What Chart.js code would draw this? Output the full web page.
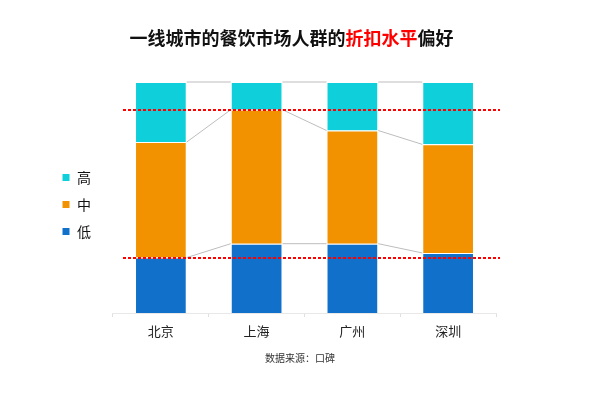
<!DOCTYPE html>
<html>
<head>
<meta charset="utf-8">
<script src="https://cdn.jsdelivr.net/npm/chart.js@4/dist/chart.umd.min.js"></script>
<style>
  body { margin: 0; background: #fff; font-family: "Noto Sans CJK SC", "Noto Sans", sans-serif; }
  #wrap { position: relative; width: 600px; height: 395px; }
  #titulo { position: absolute; top: 24px; left: 0; width: 583px; text-align: center;
            font-size: 18px; font-weight: bold; color: #111; }
  #titulo span { color: #ff0000; }
  #fuente { position: absolute; top: 350px; left: 0; width: 600px; text-align: center;
            font-size: 10px; color: #333; }
</style>
</head>
<body>
<div id="wrap">
  <canvas id="grafico" width="600" height="395"></canvas>
  <div id="titulo">一线城市的餐饮市场人群的<span>折扣水平</span>偏好</div>
  <div id="fuente">数据来源：口碑</div>
</div>
<script>
const ciudades = ['北京', '上海', '广州', '深圳'];
const bajo = [24, 30, 30, 26];
const medio = [50, 58, 49, 47];
const alto = [26, 12, 21, 27];
const lineasRojas = [88, 24];

// lineas grises entre barras y lineas rojas punteadas
const extras = {
    id: 'extras',
    afterLayout(chart) {
        // subir un poco la leyenda
        chart.legend.top -= 8;
        chart.legend.bottom -= 8;
    },
    afterDatasetsDraw(chart) {
        const ctx = chart.ctx;
        ctx.save();
        ctx.strokeStyle = '#bdbdbd';
        ctx.lineWidth = 1;
        chart.data.datasets.forEach((ds, d) => {
            const meta = chart.getDatasetMeta(d);
            for (let i = 0; i < meta.data.length - 1; i++) {
                const a = meta.data[i], b = meta.data[i + 1];
                ctx.beginPath();
                ctx.moveTo(a.x + a.width / 2, a.y);
                ctx.lineTo(b.x - b.width / 2, b.y);
                ctx.stroke();
            }
        });
        const area = chart.chartArea;
        const y = chart.scales.y;
        ctx.strokeStyle = '#ff0000';
        ctx.lineWidth = 2;
        ctx.setLineDash([3, 2]);
        lineasRojas.forEach(v => {
            const py = Math.round(y.getPixelForValue(v));
            ctx.beginPath();
            ctx.moveTo(area.left + 10, py);
            ctx.lineTo(area.right + 4, py);
            ctx.stroke();
        });
        ctx.restore();
    }
};

const ctx = document.getElementById('grafico').getContext('2d');
const myChart = new Chart(ctx, {
    type: 'bar',
    data: {
        labels: ciudades,
        datasets: [
            { label: '低', data: bajo, backgroundColor: '#1170c9' },
            { label: '中', data: medio, backgroundColor: '#f39200' },
            { label: '高', data: alto, backgroundColor: '#0fd0da' }
        ]
    },
    options: {
        responsive: false,
        animation: false,
        layout: { padding: { top: 82, right: 104, bottom: 52, left: 49 } },
        datasets: {
            bar: { borderColor: '#ffffff', borderWidth: 1, barPercentage: 0.54, categoryPercentage: 1 }
        },
        plugins: {
            title: { display: false },
            tooltip: { enabled: false },
            legend: {
                position: 'left',
                reverse: true,
                labels: {
                    boxWidth: 8, boxHeight: 8, padding: 13, color: '#111',
                    font: { size: 14, family: '"Noto Sans CJK SC"' }
                }
            }
        },
        scales: {
            x: {
                stacked: true,
                afterFit(scale) { scale.height = 30; },
                border: { display: true, color: '#e8e8e8' },
                grid: { display: true, drawOnChartArea: false, drawTicks: true, tickLength: 4, color: '#e0e0e0', offset: true },
                ticks: { color: '#222', padding: 6, font: { size: 13, family: '"Noto Sans CJK SC"' } }
            },
            y: {
                stacked: true, display: true, min: 0, max: 100,
                afterFit(scale) { scale.width = 12; },
                ticks: { display: false },
                grid: { display: false },
                border: { display: false }
            }
        }
    },
    plugins: [extras]
});
</script>
</body>
</html>
